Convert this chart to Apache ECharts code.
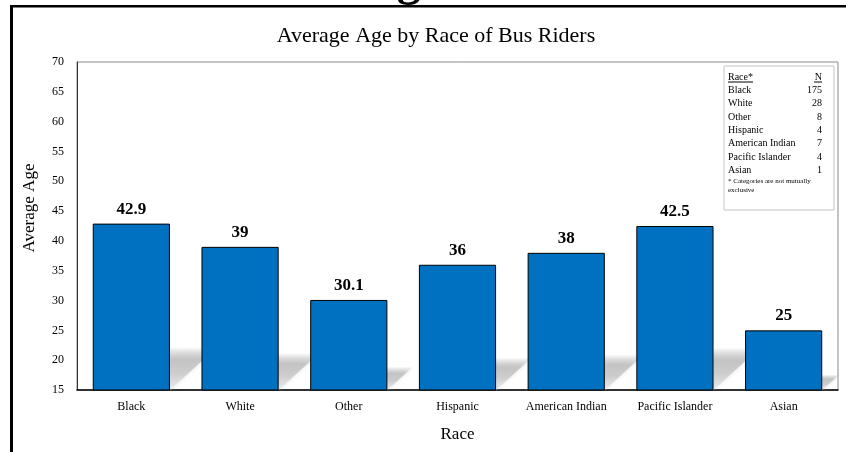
<!DOCTYPE html>
<html>
<head>
<meta charset="utf-8">
<script src="https://cdn.jsdelivr.net/npm/echarts@6/dist/echarts.min.js"></script>
<style>
  html, body { margin: 0; padding: 0; background: #fff; }
  #chart { width: 846px; height: 452px; }
</style>
</head>
<body>
<div id="chart"></div>
<script>
// Average age of bus riders, by race
var races = ['Black', 'White', 'Other', 'Hispanic', 'American Indian', 'Pacific Islander', 'Asian'];
var avgAge = [42.9, 39, 30.1, 36, 38, 42.5, 25];

// Sample sizes shown in the side table
var tableRaces = ['Black', 'White', 'Other', 'Hispanic', 'American Indian', 'Pacific Islander', 'Asian'];
var tableN = [175, 28, 8, 4, 7, 4, 1];

var yMin = 15, yMax = 70, yStep = 5;
var FONT = '"Liberation Serif", "Times New Roman", serif';

var chart = echarts.init(document.getElementById('chart'), null, { renderer: 'canvas' });

// floor shadow cast by each bar (skewed up and to the right)
var shadowFill = new echarts.graphic.LinearGradient(0, 0, 0, 1, [
  { offset: 0, color: 'rgba(190,190,190,0)' },
  { offset: 0.3, color: 'rgba(190,190,190,0.85)' },
  { offset: 0.6, color: 'rgba(200,200,200,0.85)' },
  { offset: 1, color: 'rgba(232,232,232,0.7)' }
]);

function renderShadow(params, api) {
  var idx = api.value(0);
  var v = api.value(1);
  var base = api.coord([idx, yMin]);
  var top = api.coord([idx, v]);
  var band = api.size([1, 0])[0];
  var bw = band * 0.71;
  var h = (base[1] - top[1]) * 0.26;
  var dx = h * 1.1;
  var xl = base[0] - bw / 2, xr = base[0] + bw / 2, yb = base[1];
  return {
    type: 'polygon',
    shape: { points: [[xl, yb], [xr, yb], [xr + dx, yb - h], [xl + dx, yb - h]] },
    style: { fill: shadowFill, shadowBlur: 4, shadowColor: 'rgba(200,200,200,0.6)' }
  };
}

// side table graphics
var tableX = 724, tableY = 66, tableW = 110, tableH = 144;
var rowY0 = 90.5, rowStep = 13.3;
var tableGraphics = [
  { type: 'rect', shape: { x: tableX, y: tableY, width: tableW, height: tableH },
    style: { fill: '#fff', stroke: '#c4c4c4', lineWidth: 1 }, z: 10 },
  { type: 'text', x: 728, y: 77, style: { text: 'Race*', font: '10px ' + FONT, fill: '#000', textVerticalAlign: 'middle' }, z: 11 },
  { type: 'line', shape: { x1: 728, y1: 82, x2: 753, y2: 82 }, style: { stroke: '#000', lineWidth: 1 }, z: 11 },
  { type: 'text', x: 822, y: 77, style: { text: 'N', font: '10px ' + FONT, fill: '#000', textAlign: 'right', textVerticalAlign: 'middle' }, z: 11 },
  { type: 'line', shape: { x1: 814, y1: 82, x2: 822, y2: 82 }, style: { stroke: '#000', lineWidth: 1 }, z: 11 },
  { type: 'text', x: 728, y: 181, style: { text: '* Categories are not mutually', font: '7px ' + FONT, fill: '#000', textVerticalAlign: 'middle' }, z: 11 },
  { type: 'text', x: 728, y: 190, style: { text: 'exclusive', font: '7px ' + FONT, fill: '#000', textVerticalAlign: 'middle' }, z: 11 }
];
tableRaces.forEach(function (r, i) {
  var y = rowY0 + i * rowStep;
  tableGraphics.push({ type: 'text', x: 728, y: y,
    style: { text: r, font: '10px ' + FONT, fill: '#000', textVerticalAlign: 'middle' }, z: 11 });
  tableGraphics.push({ type: 'text', x: 822, y: y,
    style: { text: String(tableN[i]), font: '10px ' + FONT, fill: '#000', textAlign: 'right', textVerticalAlign: 'middle' }, z: 11 });
});

var frameGraphics = [
  // heading above the frame (only the descender reaches the page)
  { type: 'text', x: 362, y: -17, style: { text: 'Age', font: 'bold 48px ' + FONT, fill: '#000', textAlign: 'left', textVerticalAlign: 'middle' }, z: 19 },
  // page frame
  { type: 'rect', shape: { x: 10, y: 5, width: 836, height: 2.5 }, style: { fill: '#000' }, z: 20 },
  { type: 'rect', shape: { x: 10, y: 5, width: 3, height: 447 }, style: { fill: '#000' }, z: 20 },
  { type: 'rect', shape: { x: 0, y: 7.5, width: 846, height: 8 }, style: { fill: '#fff' }, z: 19.5 },
  // y-axis title
  { type: 'text', x: 30, y: 208, rotation: Math.PI / 2,
    style: { text: 'Average Age', font: '17px ' + FONT, fill: '#000', textAlign: 'center', textVerticalAlign: 'middle' } }
];

var option = {
  backgroundColor: '#fff',
  animation: false,
  title: {
    text: 'Average Age by Race of Bus Riders',
    left: 431, top: 20, textAlign: 'center',
    textStyle: { fontFamily: FONT, fontWeight: 'normal', fontSize: 22, color: '#000' }
  },
  grid: {
    left: 77, right: 8, top: 62, bottom: 62,
    show: true, borderColor: '#8a8a8a', borderWidth: 1, backgroundColor: 'transparent'
  },
  xAxis: {
    type: 'category',
    data: races,
    name: 'Race',
    nameLocation: 'middle',
    nameGap: 36,
    nameTextStyle: { fontFamily: FONT, fontSize: 17, color: '#000' },
    axisLine: { lineStyle: { color: '#000', width: 1.5 } },
    axisTick: { show: false },
    axisLabel: { fontFamily: FONT, fontSize: 12, color: '#000', margin: 11 }
  },
  yAxis: {
    type: 'value',
    min: yMin, max: yMax, interval: yStep,
    axisLine: { show: true, lineStyle: { color: '#333', width: 1 } },
    axisTick: { show: false },
    splitLine: { show: false },
    axisLabel: { fontFamily: FONT, fontSize: 12, color: '#000', margin: 13 }
  },
  graphic: tableGraphics.concat(frameGraphics),
  series: [
    {
      type: 'custom',
      renderItem: renderShadow,
      clip: true,
      z: 1,
      silent: true,
      encode: { x: 0, y: 1 },
      data: avgAge.map(function (v, i) { return [i, v]; })
    },
    {
      type: 'bar',
      data: avgAge,
      barCategoryGap: '29%',
      z: 2,
      itemStyle: { color: '#0070C0', borderColor: '#000', borderWidth: 1 },
      label: {
        show: true, position: 'top', distance: 6,
        fontFamily: FONT, fontWeight: 'bold', fontSize: 17, color: '#000'
      }
    }
  ]
};

chart.setOption(option);
</script>
</body>
</html>
